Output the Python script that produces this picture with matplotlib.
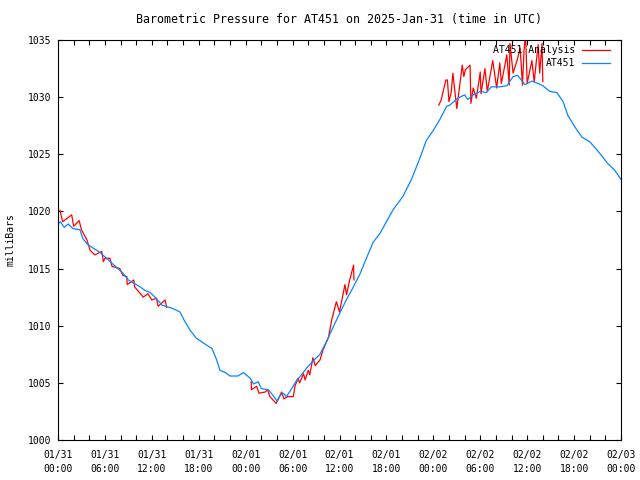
import matplotlib
matplotlib.use("Agg")
import matplotlib.pyplot as plt
from matplotlib.ticker import MultipleLocator

# hours since 2025-01-31 00:00 UTC, pressure in mbar
obs_hours = [0.0, 0.3, 0.8, 1.3, 1.9, 2.8, 3.2, 3.8, 5.4, 6.2, 7.5, 8.3, 9.0, 10.5, 11.1,
             11.8, 12.4, 13.3, 14.7, 15.6, 16.2, 16.9, 17.7, 19.0, 19.7, 20.3, 20.7,
             21.4, 22.0, 23.0, 23.7, 24.6, 25.0, 25.6, 26.0, 26.9, 27.5, 28.0, 28.4,
             28.8, 29.2, 29.9, 30.5, 30.9, 31.8, 32.6, 33.5, 34.4, 35.2, 36.1, 36.9,
             37.7, 38.6, 39.5, 40.3, 41.2, 42.0, 42.9, 44.1, 45.2, 46.3, 47.1, 48.0,
             48.8, 49.7, 50.1, 51.1, 52.0, 52.4, 53.1, 54.0, 54.8, 55.4, 56.5, 57.4,
             58.2, 58.8, 59.7, 60.6, 61.4, 62.0, 62.9, 63.8, 64.6, 65.2, 66.1, 67.0,
             68.0, 68.9, 69.5, 70.3, 71.2, 72.0]
obs_press = [1018.9, 1019.1, 1018.6, 1018.9, 1018.5, 1018.4, 1017.6, 1017.1, 1016.4, 1015.9,
             1015.1, 1014.6, 1014.0, 1013.4, 1013.1, 1012.9, 1012.5, 1011.8, 1011.5,
             1011.2, 1010.4, 1009.6, 1008.9, 1008.3, 1008.0, 1007.0, 1006.1, 1005.9,
             1005.6, 1005.6, 1005.9, 1005.4, 1004.9, 1005.1, 1004.5, 1004.4, 1003.9,
             1003.4, 1003.9, 1004.1, 1003.8, 1004.5, 1005.2, 1005.5, 1006.3, 1006.9,
             1007.5, 1008.7, 1009.9, 1011.2, 1012.3, 1013.3, 1014.5, 1016.0, 1017.3,
             1018.1, 1019.1, 1020.2, 1021.3, 1022.8, 1024.7, 1026.2, 1027.1, 1028.0,
             1029.2, 1029.3, 1029.9, 1030.2, 1029.8, 1030.2, 1030.5, 1030.4, 1030.9,
             1030.9, 1031.0, 1031.8, 1031.9, 1031.1, 1031.4, 1031.2, 1031.0, 1030.5,
             1030.4, 1029.6, 1028.4, 1027.4, 1026.5, 1026.1, 1025.4, 1024.9, 1024.2,
             1023.6, 1022.8]

# analysis, three separate runs
ana1_hours = [0.25, 0.6, 1.75, 2.0, 2.7, 3.0, 3.7, 4.1, 4.7, 5.6, 5.8, 6.0, 6.65, 6.9,
              7.9, 8.3, 8.8, 8.85, 9.7, 9.8, 10.9, 11.5, 12.0, 12.6, 12.8, 13.7, 13.9]
ana1_press = [1020.1, 1019.1, 1019.7, 1018.7, 1019.2, 1018.4, 1017.5, 1016.6, 1016.2,
              1016.5, 1015.6, 1015.9, 1015.9, 1015.2, 1015.0, 1014.4, 1014.3, 1013.6,
              1014.0, 1013.4, 1012.5, 1012.8, 1012.25, 1012.4, 1011.7, 1012.25, 1011.6]

ana2_hours = [24.7, 24.75, 25.4, 25.7, 26.5, 26.8, 27.1, 27.9, 28.2, 28.6, 28.9, 29.4,
              30.1, 30.3, 30.7, 30.9, 31.4, 31.6, 32.0, 32.2, 32.6, 32.9, 33.5, 33.9,
              34.6, 35.0, 35.6, 36.0, 36.7, 36.9, 37.3, 37.8, 37.85]
ana2_press = [1005.1, 1004.4, 1004.7, 1004.1, 1004.2, 1004.4, 1003.8, 1003.2, 1003.6,
              1004.2, 1003.6, 1003.8, 1003.8, 1004.7, 1005.4, 1005.0, 1005.8, 1005.25,
              1006.1, 1005.7, 1007.2, 1006.5, 1007.0, 1007.9, 1009.0, 1010.5, 1012.1,
              1011.2, 1013.6, 1012.7, 1014.0, 1015.3, 1014.0]

ana3_hours = [48.7, 49.0, 49.6, 49.8, 50.0, 50.3, 50.5, 51.0, 51.4, 51.7, 51.9, 52.1,
              52.7, 52.8, 53.1, 53.5, 54.0, 54.1, 54.6, 54.9, 55.6, 56.1, 56.5, 56.7,
              57.4, 57.7, 57.8, 58.2, 58.7, 59.1, 59.4, 59.6, 59.8, 60.0, 60.6, 60.9,
              61.4, 61.6, 61.9, 62.0]
ana3_press = [1029.3, 1029.75, 1031.5, 1031.5, 1029.6, 1030.5, 1032.1, 1029.0, 1031.2,
              1032.8, 1031.8, 1032.4, 1032.8, 1029.45, 1030.8, 1029.9, 1032.2, 1030.3,
              1032.5, 1030.5, 1033.2, 1030.8, 1033.0, 1031.2, 1033.7, 1031.05, 1034.7,
              1032.1, 1033.2, 1034.3, 1031.05, 1034.1, 1035.5, 1031.2, 1033.2, 1031.35,
              1034.6, 1032.1, 1034.7, 1031.35]

tick_labels = ["01/31\n00:00", "01/31\n06:00", "01/31\n12:00", "01/31\n18:00",
               "02/01\n00:00", "02/01\n06:00", "02/01\n12:00", "02/01\n18:00",
               "02/02\n00:00", "02/02\n06:00", "02/02\n12:00", "02/02\n18:00",
               "02/03\n00:00"]

red = "#ff0000"
blue = "#0a84ff"
plt.rcParams["font.family"] = "DejaVu Sans Mono"
plt.rcParams["font.size"] = 7

fig = plt.figure(figsize=(6.4, 4.8), dpi=100)
ax = fig.add_axes([58 / 640, 40 / 480, 563 / 640, 400 / 480])

for h, p in [(ana1_hours, ana1_press), (ana2_hours, ana2_press), (ana3_hours, ana3_press)]:
    ax.plot(h, p, color=red, lw=0.9)
ax.plot(obs_hours, obs_press, color=blue, lw=0.9)

ax.set_xlim(0, 72)
ax.set_ylim(1000, 1035)
ax.set_xticks(range(0, 73, 6))
ax.set_xticklabels(tick_labels, linespacing=1.5)
ax.xaxis.set_minor_locator(MultipleLocator(2))
ax.set_yticks(range(1000, 1036, 5))
ax.tick_params(which="both", direction="in", top=True, right=True, length=3.5,
               width=0.8, labelsize=7)
ax.tick_params(axis="x", pad=7)
ax.tick_params(axis="y", pad=5)
for s in ax.spines.values():
    s.set_linewidth(0.8)

ax.set_ylabel("milliBars", labelpad=9)
ax.set_title("Barometric Pressure for AT451 on 2025-Jan-31 (time in UTC)", pad=12)

# gnuplot style key: text right-aligned, sample to the right
ax.text(0.918, 0.975, "AT451 Analysis", transform=ax.transAxes, ha="right", va="center")
ax.plot([0.931, 0.98], [0.975, 0.975], transform=ax.transAxes, color=red, lw=0.9)
ax.text(0.918, 0.9425, "AT451", transform=ax.transAxes, ha="right", va="center")
ax.plot([0.931, 0.98], [0.9425, 0.9425], transform=ax.transAxes, color=blue, lw=0.9)

fig.savefig("out.png", dpi=100)
